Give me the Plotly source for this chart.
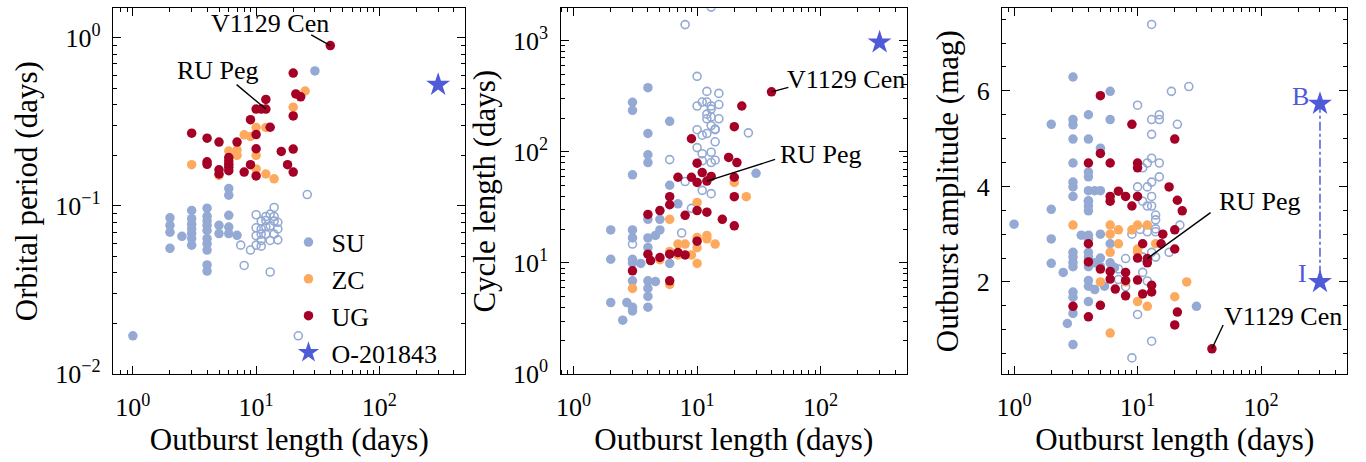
import numpy as np
import plotly.graph_objects as go

# ---------------- data ----------------
# Panel 1: orbital period (days) vs outburst length (days)
p1_su_x = [6, 6, 6, 6, 6, 7, 5, 5, 4, 4, 4, 4, 4, 4, 4, 4, 4, 4,
           3, 3, 3, 3, 3, 3, 3, 2.5, 2, 2, 2, 2, 1, 30]
p1_su_y = [0.127, 0.116, 0.088, 0.075, 0.0685, 0.0669, 0.0767, 0.0685,
           0.097, 0.087, 0.0816, 0.0767, 0.0715, 0.064, 0.0597, 0.0547, 0.0446, 0.041,
           0.094, 0.084, 0.078, 0.0732, 0.0685, 0.064, 0.0585, 0.066,
           0.085, 0.0767, 0.0699, 0.056, 0.0169, 0.636]
p1_suo_x = [26, 14, 10, 12, 13, 14, 15, 14, 12, 11, 10, 11, 12, 13, 15,
            10, 11, 12, 14, 15, 13, 11, 10, 11, 9, 7.5, 8, 13, 22]
p1_suo_y = [0.117, 0.098, 0.0887, 0.0866, 0.0895, 0.0866, 0.080, 0.0813, 0.082, 0.0813,
            0.0742, 0.073, 0.0752, 0.0762, 0.073, 0.0666, 0.068, 0.068, 0.068, 0.0629,
            0.0624, 0.0624, 0.0585, 0.0577, 0.0547, 0.0585, 0.0443, 0.0405, 0.0169]
p1_zc_x = [25, 20, 10, 12, 8, 9, 6, 7, 7, 10, 3, 5, 10, 12, 14]
p1_zc_y = [0.483, 0.387, 0.293, 0.293, 0.265, 0.259, 0.212, 0.216, 0.200, 0.200,
           0.176, 0.152, 0.166, 0.155, 0.145]
p1_ug_x = [40, 20, 21, 23, 12, 10, 11, 12, 20, 9, 13, 3, 4, 5, 10, 7, 10, 16, 20,
           6, 6, 6, 6, 6, 4, 4, 5, 5, 8, 9, 10, 18, 20]
p1_ug_y = [0.90, 0.617, 0.464, 0.446, 0.43, 0.377, 0.377, 0.377, 0.343, 0.326, 0.294,
           0.271, 0.253, 0.240, 0.266, 0.240, 0.219, 0.211, 0.218,
           0.194, 0.185, 0.177, 0.170, 0.162, 0.183, 0.177, 0.164, 0.155,
           0.159, 0.176, 0.151, 0.176, 0.159]
p1_star_x = [300]
p1_star_y = [0.526]

# Panel 2: cycle length (days) vs outburst length (days)
p2_su_x = [4, 3, 3, 6, 4, 4, 4, 30, 3, 6, 7, 4, 5, 2, 3, 3, 4, 4.6, 5, 4,
           2, 3, 3, 3.5, 6, 3, 4, 4.6, 4, 4, 2, 2.7, 3, 3, 4, 2.5]
p2_su_y = [377, 279, 236, 188, 146, 94, 80, 64, 62, 50, 34, 24.7, 24.7, 19.8, 19.8, 16.8,
           16.8, 17.7, 19.8, 13.8, 10.8, 10.8, 10.0, 9.9, 9.9, 6.9, 6.9, 6.8, 5.9, 5.0,
           4.4, 4.4, 4.0, 3.7, 4.0, 3.06]
p2_suo_x = [13, 8, 10, 12, 15, 10, 11, 12, 13, 15, 13, 12, 13, 15, 12, 13, 14, 10, 11,
            12, 14, 14, 10, 11, 13, 11, 13, 14, 6, 8, 11, 13, 26, 9, 7.5, 3]
p2_suo_y = [2000, 1393, 477, 349, 335, 258, 280, 280, 258, 266, 242, 218, 206, 198, 198,
            172, 160, 158, 141, 146, 158, 123, 109, 96, 99, 83, 80, 84, 85, 54, 45, 42,
            148, 31, 18.6, 14.8]
p2_zc_x = [20, 10, 25, 6, 10, 12, 12, 14, 7, 8, 10, 6, 7, 9, 5, 10, 6, 3]
p2_zc_y = [53, 35, 39.5, 24.7, 16.9, 17.7, 16.5, 14.8, 14.8, 14.8, 13.7, 12.7, 11.8, 11.8,
           10.7, 9.9, 6.4, 5.9]
p2_ug_x = [40, 23, 20, 9, 10, 18, 21, 7, 9, 10, 11, 12, 13, 20, 6, 6, 20, 5, 10, 12,
           4, 8, 16, 20, 10, 4, 6, 7, 5, 4.2, 8, 3, 6]
p2_ug_y = [346, 258, 168, 131, 79, 89, 80, 59, 59, 53, 65, 54.5, 60, 59, 39.5, 33.4, 39.5,
           29.6, 29.6, 28.6, 27.3, 26.8, 24.7, 21.6, 15.7, 12.0, 12.0, 12.4, 11.2, 10.5,
           11.8, 8.5, 6.9]
p2_star_x = [300]
p2_star_y = [964]

# Panel 3: outburst amplitude (mag) vs outburst length (days)
p3_su_x = [1, 2, 2, 2, 2, 2.5, 2.7,
           3, 3, 3, 3, 3, 3, 3, 3, 3, 3, 3, 3, 3, 3, 3, 3,
           3.5,
           4, 4, 4, 4, 4, 4, 4, 4, 4, 4, 4, 4, 4, 4, 4, 4, 4,
           4.5, 4.5, 4.5, 5, 5, 5, 5, 5, 5.4, 6, 6, 6, 6, 6.5, 30]
p3_su_y = [3.21, 5.30, 3.52, 2.90, 2.39, 2.20, 1.13,
           6.29, 5.40, 5.29, 4.99, 4.49, 4.09, 3.99, 3.79, 2.62, 2.52, 2.41, 2.32,
           1.79, 1.68, 1.34, 0.69,
           2.98,
           5.50, 4.99, 4.30, 4.20, 3.91, 3.70, 3.69, 3.59, 3.49, 2.98, 2.90, 2.62, 2.52,
           2.32, 2.03, 1.91, 1.59,
           3.91, 2.40, 1.84, 4.80, 3.91, 3.00, 2.50, 2.32, 1.91, 5.99, 5.40, 2.80, 2.40,
           2.30, 1.49]
p3_suo_x = [13, 18.8, 26, 10, 13, 15, 15, 21, 13, 11, 12, 13, 15, 15, 13, 10, 12, 13, 11,
            12, 13, 14, 14, 14, 22, 9, 10.5, 12, 14, 18, 13, 11, 14, 8, 7, 7, 8, 11, 12,
            10, 13, 9]
p3_suo_y = [7.39, 5.99, 6.09, 5.70, 5.40, 5.50, 5.40, 5.30, 5.09, 4.39, 4.49, 4.59, 4.49,
            4.20, 4.09, 3.99, 3.99, 3.79, 3.69, 3.59, 3.59, 3.40, 3.30, 3.11, 3.19, 3.00,
            3.10, 3.05, 3.05, 2.62, 2.62, 2.52, 2.52, 2.49, 2.27, 2.05, 1.90, 2.20, 2.02,
            1.32, 0.76, 0.41]
p3_zc_x = [3, 6, 6, 7, 9, 10, 12, 7, 14, 10, 10, 6, 5, 8, 25, 20, 10, 12, 6]
p3_zc_y = [3.19, 3.19, 3.00, 3.09, 3.09, 3.19, 3.19, 2.80, 2.80, 2.69, 2.62, 2.62, 2.00,
           2.00, 2.00, 1.69, 1.59, 1.49, 0.93]
p3_ug_x = [5, 9, 20, 5, 4, 6, 10, 10, 18, 7, 6, 8, 10, 21, 6, 9, 23, 16, 20, 4, 11, 15.5,
           20, 4, 10, 12, 12, 5, 6, 6, 8, 8, 10, 13, 13, 6.6, 8, 11, 3, 5, 4, 21, 20, 40]
p3_ug_y = [5.90, 5.30, 4.99, 4.69, 4.49, 4.49, 4.49, 4.39, 3.99, 3.90, 3.79, 3.79, 3.79,
           3.71, 3.69, 3.59, 3.49, 3.00, 3.09, 2.80, 2.80, 2.80, 2.69, 2.42, 2.50, 2.49,
           2.40, 2.27, 2.22, 2.06, 2.20, 2.03, 2.04, 1.93, 1.79, 1.85, 1.71, 1.75, 1.49,
           1.51, 1.27, 1.37, 1.10, 0.60]
p3_star_x = [300, 300]
p3_star_y = [5.73, 2.00]

# named objects: (panel, name, text centre, leader start, object position)
labels = [
    (1, "V1129 Cen", (13.0, 1.212), (28.0, 1.04), (40, 0.90)),
    (1, "RU Peg", (4.87, 0.637), (6.95, 0.527), (12, 0.377)),
    (2, "V1129 Cen", (160, 443), (54.8, 380), (40, 346)),
    (2, "RU Peg", (99.8, 95.3), (42.8, 85.3), (12, 54.5)),
    (3, "RU Peg", (98.4, 3.69), (39.0, 3.45), (12, 2.49)),
    (3, "V1129 Cen", (151, 1.27), (49.3, 1.10), (40, 0.60)),
]
band_labels = [("B", 208, 5.89), ("I", 216, 2.17)]

# ---------------- style ----------------
C_SU = "#94a9d3"
C_ZC = "#fdaa5e"
C_UG = "#a50026"
C_STAR = "#4f5ad8"
FONT = "Liberation Serif"
MS = 9.5

fig = go.Figure()

panels = [
    (1, p1_su_x, p1_su_y, p1_suo_x, p1_suo_y, p1_zc_x, p1_zc_y, p1_ug_x, p1_ug_y, p1_star_x, p1_star_y),
    (2, p2_su_x, p2_su_y, p2_suo_x, p2_suo_y, p2_zc_x, p2_zc_y, p2_ug_x, p2_ug_y, p2_star_x, p2_star_y),
    (3, p3_su_x, p3_su_y, p3_suo_x, p3_suo_y, p3_zc_x, p3_zc_y, p3_ug_x, p3_ug_y, p3_star_x, p3_star_y),
]

for (k, sux, suy, suox, suoy, zcx, zcy, ugx, ugy, stx, sty) in panels:
    ax = "" if k == 1 else str(k)
    xa, ya = "x" + ax, "y" + ax
    leg = k == 1
    fig.add_trace(go.Scatter(x=sux, y=suy, mode="markers", name="SU", legendgroup="su",
                             showlegend=leg, xaxis=xa, yaxis=ya,
                             marker=dict(color=C_SU, size=MS, line=dict(width=0))))
    fig.add_trace(go.Scatter(x=suox, y=suoy, mode="markers", name="SU (super)", showlegend=False,
                             xaxis=xa, yaxis=ya,
                             marker=dict(symbol="circle-open", color=C_SU, size=MS - 1.5,
                                         line=dict(width=1.6, color=C_SU))))
    fig.add_trace(go.Scatter(x=zcx, y=zcy, mode="markers", name="ZC", legendgroup="zc",
                             showlegend=leg, xaxis=xa, yaxis=ya,
                             marker=dict(color=C_ZC, size=MS, line=dict(width=0))))
    fig.add_trace(go.Scatter(x=ugx, y=ugy, mode="markers", name="UG", legendgroup="ug",
                             showlegend=leg, xaxis=xa, yaxis=ya,
                             marker=dict(color=C_UG, size=MS, line=dict(width=0))))
    if k == 3:
        fig.add_trace(go.Scatter(x=stx, y=sty, mode="lines", showlegend=False,
                                 xaxis=xa, yaxis=ya,
                                 line=dict(color=C_STAR, width=1.5, dash="dashdot")))
    fig.add_trace(go.Scatter(x=stx, y=sty, mode="markers", name="O-201843", legendgroup="star",
                             showlegend=leg, xaxis=xa, yaxis=ya,
                             marker=dict(symbol="star", color=C_STAR, size=18, line=dict(width=0))))

# leader lines and names
for (k, name, (tx, ty), (lx, ly), (px, py)) in labels:
    ax = "" if k == 1 else str(k)
    fig.add_trace(go.Scatter(x=[lx, px], y=[ly, py], mode="lines", showlegend=False,
                             xaxis="x" + ax, yaxis="y" + ax,
                             line=dict(color="black", width=1.4)))
    ylog = k != 3
    fig.add_annotation(x=np.log10(tx), y=np.log10(ty) if ylog else ty, text=name,
                       xref="x" + ax, yref="y" + ax, showarrow=False,
                       xanchor="center", yanchor="middle",
                       font=dict(family=FONT, size=26, color="black"))
for (t, tx, ty) in band_labels:
    fig.add_annotation(x=np.log10(tx), y=ty, text=t, xref="x3", yref="y3", showarrow=False,
                       xanchor="center", yanchor="middle",
                       font=dict(family=FONT, size=26, color=C_STAR))

# ---------------- axes ----------------
TITLE_FONT = dict(family=FONT, size=31, color="black")
common = dict(showline=True, linecolor="black", linewidth=1.3, mirror="ticks",
              ticks="inside", ticklen=8, tickwidth=1.2, tickcolor="black",
              showgrid=False, zeroline=False,
              tickfont=dict(family=FONT, size=26, color="black"))
log_minor = dict(ticks="inside", ticklen=4, tickwidth=1, tickcolor="black", dtick="D1",
                 showgrid=False)

xdoms = [[107.5 / 1366, 461.5 / 1366], [557 / 1366, 905 / 1366], [1000.5 / 1366, 1347.3 / 1366]]
ydom = [1 - 386.7 / 462, 1 - 8.5 / 462]
xlefts = [0.69, 0.785, 0.80]

xticks = [1, 10, 100]
xtext = ["10<sup>0</sup>", "10<sup>1</sup>", "10<sup>2</sup>"]

for i in range(3):
    suffix = "" if i == 0 else str(i + 1)
    fig.layout["xaxis" + suffix] = dict(
        common, type="log", domain=xdoms[i], anchor="y" + suffix,
        range=[np.log10(xlefts[i]), np.log10(500)],
        tickmode="array", tickvals=xticks, ticktext=xtext, minor=log_minor,
        title=dict(text="Outburst length (days)", standoff=2, font=TITLE_FONT),
        ticklabelstandoff=10)

fig.layout["yaxis"] = dict(
    common, type="log", domain=ydom, anchor="x", range=[-2, np.log10(1.5)],
    tickmode="array", tickvals=[0.01, 0.1, 1],
    ticktext=["10<sup>\u22122</sup>", "10<sup>\u22121</sup>", "10<sup>0</sup>"],
    minor=log_minor, title=dict(text="Orbital period (days)", standoff=8, font=TITLE_FONT),
    ticklabelstandoff=6)
fig.layout["yaxis2"] = dict(
    common, type="log", domain=ydom, anchor="x2", range=[0, np.log10(1955)],
    tickmode="array", tickvals=[1, 10, 100, 1000],
    ticktext=["10<sup>0</sup>", "10<sup>1</sup>", "10<sup>2</sup>", "10<sup>3</sup>"],
    minor=log_minor, title=dict(text="Cycle length (days)", standoff=8, font=TITLE_FONT),
    ticklabelstandoff=6)
fig.layout["yaxis3"] = dict(
    common, type="linear", domain=ydom, anchor="x3", range=[0.07, 7.73],
    tickmode="array", tickvals=[2, 4, 6],
    minor=dict(ticks="inside", ticklen=4, tickwidth=1, tickcolor="black", dtick=0.5,
               tick0=0, showgrid=False),
    title=dict(text="Outburst amplitude (mag)", standoff=8, font=TITLE_FONT),
    ticklabelstandoff=6)

fig.update_layout(
    width=1366, height=462,
    margin=dict(l=0, r=0, t=0, b=0),
    paper_bgcolor="white", plot_bgcolor="white",
    font=dict(family=FONT, color="black"),
    legend=dict(x=0.2055, y=1 - 226 / 462, xanchor="left", yanchor="top",
                bgcolor="rgba(0,0,0,0)", font=dict(family=FONT, size=26),
                tracegroupgap=0, itemwidth=36),
)

fig.write_html("out.html")
